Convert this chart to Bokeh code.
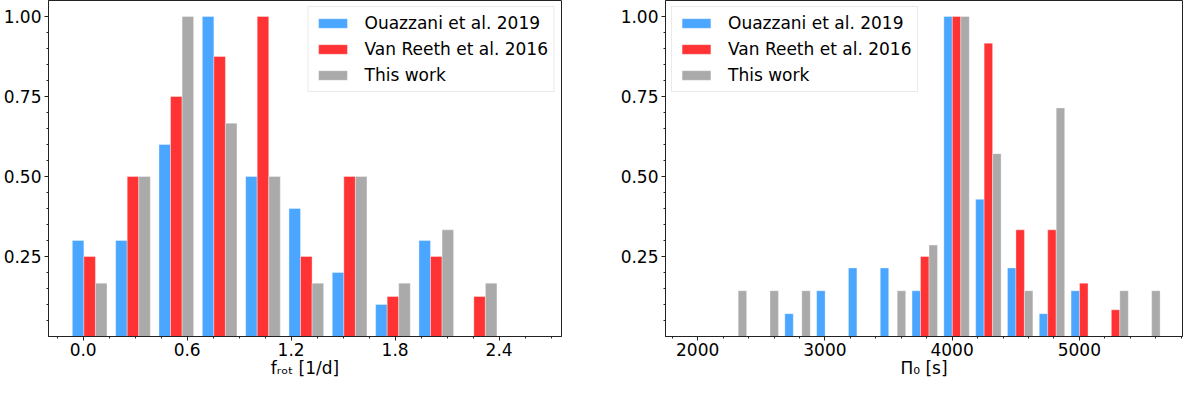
from bokeh.plotting import figure
from bokeh.layouts import row
from bokeh.models import FixedTicker, PrintfTickFormatter, Range1d, Legend, LegendItem
from bokeh.embed import file_html
from bokeh.resources import INLINE

series_labels = ["Ouazzani et al. 2019", "Van Reeth et al. 2016", "This work"]
series_colors = ["#4ba6ff", "#ff3333", "#aaaaaa"]

# Left panel: rotation frequency histogram (normalised)
frot_edges = [-0.0875, 0.1625, 0.4125, 0.6625, 0.9125, 1.1625, 1.4125, 1.6625, 1.9125, 2.1625, 2.4125]
frot_ouazzani = [0.3, 0.3, 0.6, 1.0, 0.5, 0.4, 0.2, 0.1, 0.3, 0.0]
frot_vanreeth = [0.25, 0.5, 0.75, 0.875, 1.0, 0.25, 0.5, 0.125, 0.25, 0.125]
frot_thiswork = [0.1667, 0.5, 1.0, 0.6667, 0.5, 0.1667, 0.5, 0.1667, 0.3333, 0.1667]
frot_ticks = [0.0, 0.6, 1.2, 1.8, 2.4]
frot_minor = [-0.15, 0.15, 0.3, 0.45, 0.75, 0.9, 1.05, 1.35, 1.5, 1.65, 1.95, 2.1, 2.25, 2.55, 2.7]
frot_label = "fᵣₒₜ [1/d]"

# Right panel: buoyancy travel time histogram (normalised)
pi0_edges = [2160, 2410, 2660, 2910, 3160, 3410, 3660, 3910, 4160, 4410, 4660, 4910, 5160, 5410, 5660]
pi0_ouazzani = [0, 0, 0.0714, 0.1429, 0.2143, 0.2143, 0.1429, 1.0, 0.4286, 0.2143, 0.0714, 0.1429, 0, 0]
pi0_vanreeth = [0, 0, 0, 0, 0, 0, 0.25, 1.0, 0.9167, 0.3333, 0.3333, 0.1667, 0.0833, 0]
pi0_thiswork = [0.1429, 0.1429, 0.1429, 0, 0, 0.1429, 0.2857, 1.0, 0.5714, 0.1429, 0.7143, 0, 0.1429, 0.1429]
pi0_ticks = [2000, 3000, 4000, 5000]
pi0_minor = [1800, 2200, 2400, 2600, 2800, 3200, 3400, 3600, 3800, 4200, 4400, 4600, 4800, 5200, 5400, 5600, 5800]
pi0_label = "Π₀ [s]"

y_ticks = [0.25, 0.5, 0.75, 1.0]
y_minor = [0.05, 0.1, 0.15, 0.2, 0.3, 0.35, 0.4, 0.45, 0.55, 0.6, 0.65, 0.7, 0.8, 0.85, 0.9, 0.95]

FONT = "DejaVu Sans"
FS = "17px"


def make_panel(edges, series, xr, xticks, xminor, xfmt, xlabel, legend_loc,
               border_left, border_right):
    p = figure(width=592, height=380, output_backend="svg", toolbar_location=None,
               x_range=Range1d(*xr), y_range=Range1d(0, 1.05),
               min_border_left=border_left, min_border_right=border_right,
               min_border_top=0, min_border_bottom=0)
    p.xgrid.visible = False
    p.ygrid.visible = False
    p.outline_line_color = "#222222"
    p.outline_line_width = 1
    p.background_fill_color = "white"
    p.border_fill_color = "white"

    n = len(series)
    items = []
    for i, (vals, label, color) in enumerate(zip(series, series_labels, series_colors)):
        xs, tops = [], []
        bw = None
        for k, v in enumerate(vals):
            w = edges[k + 1] - edges[k]
            bw = 0.8 * w / n
            if v <= 0:
                continue
            xs.append(edges[k] + 0.1 * w + (i + 0.5) * bw)
            tops.append(v)
        r = p.vbar(x=xs, top=tops, bottom=0, width=bw, fill_color=color,
                   line_color="white", line_alpha=0.35, line_width=1)
        items.append(LegendItem(label=label, renderers=[r]))

    legend = Legend(items=items, location=legend_loc)
    legend.label_text_font = FONT
    legend.label_text_font_size = FS
    legend.label_text_color = "black"
    legend.glyph_width = 36
    legend.glyph_height = 12
    legend.label_standoff = 14
    legend.label_height = 20
    legend.spacing = 6
    legend.padding = 6
    legend.margin = 6
    legend.border_line_color = "#d6d6d6"
    legend.border_line_width = 1
    legend.background_fill_alpha = 0.8
    p.add_layout(legend)

    for ax, ticks, minor in ((p.xaxis, xticks, xminor), (p.yaxis, y_ticks, y_minor)):
        ax.ticker = FixedTicker(ticks=ticks, minor_ticks=minor)
        ax.axis_line_color = "#222222"
        ax.major_tick_line_color = "#222222"
        ax.minor_tick_line_color = "#222222"
        ax.major_tick_out = 4
        ax.major_tick_in = 0
        ax.minor_tick_out = 2
        ax.minor_tick_in = 0
        ax.major_label_text_font = FONT
        ax.major_label_text_font_size = FS
        ax.major_label_text_color = "black"
        ax.major_label_standoff = 3
    p.xaxis.major_label_standoff = 2
    p.xaxis.formatter = PrintfTickFormatter(format=xfmt)
    p.yaxis.formatter = PrintfTickFormatter(format="%.2f")
    p.xaxis.axis_label = xlabel
    p.xaxis.axis_label_text_font = FONT
    p.xaxis.axis_label_text_font_size = FS
    p.xaxis.axis_label_text_font_style = "normal"
    p.xaxis.axis_label_text_color = "black"
    p.xaxis.axis_label_text_line_height = 1.0
    p.xaxis.axis_label_standoff = -1
    return p


p1 = make_panel(frot_edges, [frot_ouazzani, frot_vanreeth, frot_thiswork],
                (-0.2, 2.76), frot_ticks, frot_minor, "%.1f", frot_label, "top_right", 38, 31)
p2 = make_panel(pi0_edges, [pi0_ouazzani, pi0_vanreeth, pi0_thiswork],
                (1747, 5811), pi0_ticks, pi0_minor, "%d", pi0_label, "top_left", 73, 2)

layout = row(p1, p2)
open("out.html", "w").write(file_html(layout, INLINE))
